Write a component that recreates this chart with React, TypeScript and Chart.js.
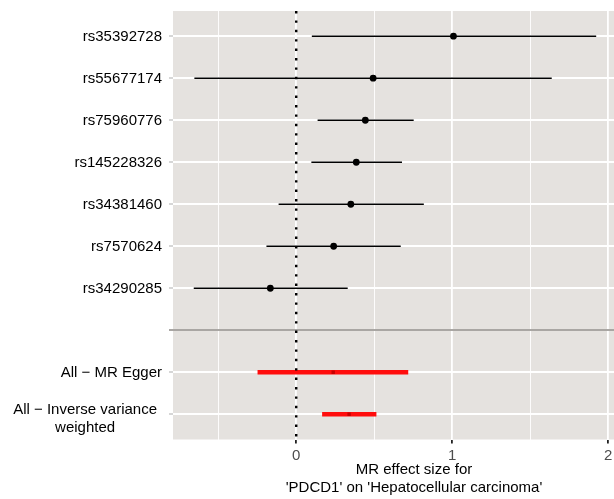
import React, { useEffect, useRef } from 'react';
import { Chart, registerables } from 'chart.js';

Chart.register(...registerables);

// ---- data ----
const snpLabels = ['rs35392728', 'rs55677174', 'rs75960776', 'rs145228326', 'rs34381460', 'rs7570624', 'rs34290285'];
const snpEffect = [1.008, 0.493, 0.443, 0.385, 0.35, 0.24, -0.166];
const snpLower = [0.1, -0.653, 0.137, 0.097, -0.113, -0.191, -0.657];
const snpUpper = [1.923, 1.638, 0.753, 0.678, 0.818, 0.67, 0.33];

const summaryLabels: (string | string[])[] = ['All − MR Egger', ['All − Inverse variance', 'weighted']];
const summaryEffect = [0.237, 0.339];
const summaryLower = [-0.248, 0.166];
const summaryUpper = [0.718, 0.514];

const xTicks = [-0.5, 0, 0.5, 1, 1.5, 2];
const xTitle = ['MR effect size for', "'PDCD1' on 'Hepatocellular carcinoma'"];

const FONT = "'Liberation Sans', Arial, Helvetica, sans-serif";
const PANEL = '#E5E2DF';
const SEP_ROW = snpLabels.length; // blank separator row
const summaryRow = (j: number) => snpLabels.length + 1 + j;
const lastRow = snpLabels.length + summaryLabels.length;

export default function App() {
  const ref = useRef<HTMLCanvasElement | null>(null);

  useEffect(() => {
    if (!ref.current) return;

    const bgPlugin = {
      id: 'panelBg',
      beforeDraw(chart: any) {
        const { ctx, chartArea } = chart;
        const { left, top, right, bottom } = chartArea;
        ctx.save();
        ctx.fillStyle = PANEL;
        ctx.fillRect(left, top, right - left, bottom - top);
        ctx.restore();
      },
    };

    const yLabelPlugin = {
      id: 'yLabels',
      afterDraw(chart: any) {
        const { ctx } = chart;
        const y = chart.scales.y;
        ctx.save();
        ctx.font = `15px ${FONT}`;
        ctx.fillStyle = '#000000';
        ctx.textBaseline = 'middle';
        const drawLabel = (lab: string | string[], row: number) => {
          const py = y.getPixelForValue(row);
          if (Array.isArray(lab)) {
            ctx.textAlign = 'center';
            const w = Math.max(...lab.map((l) => ctx.measureText(l).width));
            const cx = 157 - w / 2;
            lab.forEach((l, k) => ctx.fillText(l, cx, py - 4 + k * 18));
          } else {
            ctx.textAlign = 'right';
            ctx.fillText(lab, 162, py + 0.5);
          }
        };
        snpLabels.forEach((l, i) => drawLabel(l, i));
        summaryLabels.forEach((l, j) => drawLabel(l, summaryRow(j)));
        ctx.restore();
      },
    };

    const datasets: any[] = [];
    // points on top
    datasets.push({
      type: 'scatter',
      data: snpEffect.map((v, i) => ({ x: v, y: i })),
      backgroundColor: '#000000',
      borderColor: '#000000',
      pointRadius: 3.4,
      pointBorderWidth: 0,
      order: 0,
    });
    datasets.push({
      type: 'scatter',
      data: summaryEffect.map((v, j) => ({ x: v, y: summaryRow(j) })),
      backgroundColor: '#C80000',
      borderColor: '#C80000',
      pointStyle: 'rect',
      pointRadius: 2.4,
      pointBorderWidth: 0,
      order: 0,
    });
    // zero line
    datasets.push({
      type: 'scatter',
      showLine: true,
      data: [
        { x: 0, y: -0.6 },
        { x: 0, y: lastRow + 0.6 },
      ],
      borderColor: '#000000',
      borderWidth: 2.4,
      borderDash: [2.4, 7],
      borderCapStyle: 'butt',
      pointRadius: 0,
      order: 1,
    });
    // error bars
    snpEffect.forEach((_, i) => {
      datasets.push({
        type: 'scatter',
        showLine: true,
        data: [
          { x: snpLower[i], y: i },
          { x: snpUpper[i], y: i },
        ],
        borderColor: '#000000',
        borderWidth: 1.5,
        pointRadius: 0,
        order: 2,
      });
    });
    summaryEffect.forEach((_, j) => {
      datasets.push({
        type: 'scatter',
        showLine: true,
        data: [
          { x: summaryLower[j], y: summaryRow(j) },
          { x: summaryUpper[j], y: summaryRow(j) },
        ],
        borderColor: '#FF0D0D',
        borderWidth: 4.5,
        borderCapStyle: 'butt',
        pointRadius: 0,
        order: 2,
      });
    });

    const chart = new Chart(ref.current, {
      type: 'scatter',
      data: { datasets },
      options: {
        animation: false,
        responsive: false,
        devicePixelRatio: 1,
        layout: { padding: { left: 0, right: 9, top: 11, bottom: 0 } },
        plugins: { legend: { display: false }, tooltip: { enabled: false }, title: { display: false } },
        scales: {
          x: {
            type: 'linear',
            min: -0.79,
            max: 2.3,
            afterBuildTicks: (s: any) => {
              s.ticks = xTicks.map((v) => ({ value: v }));
            },
            afterFit: (s: any) => {
              s.height = 59.5;
            },
            border: { display: false },
            grid: {
              color: '#FFFFFF',
              lineWidth: (c: any) => (Number.isInteger(c.tick?.value) ? 1.8 : 0.9),
              tickColor: (c: any) => (Number.isInteger(c.tick?.value) ? '#222222' : 'rgba(0,0,0,0)'),
              tickWidth: 1.8,
              tickLength: 4,
              drawTicks: true,
            },
            ticks: {
              color: '#4D4D4D',
              font: { size: 15, family: FONT },
              padding: 3,
              maxRotation: 0,
              autoSkip: false,
              callback: (v: any) => (Number.isInteger(v) ? String(v) : ''),
            },
            title: {
              display: true,
              text: xTitle,
              color: '#000000',
              font: { size: 15, family: FONT },
              padding: { top: 0, bottom: 2 },
            },
          },
          y: {
            type: 'linear',
            min: -0.6,
            max: lastRow + 0.6,
            reverse: true,
            afterBuildTicks: (s: any) => {
              s.ticks = Array.from({ length: lastRow + 1 }, (_, i) => ({ value: i }));
            },
            afterFit: (s: any) => {
              s.width = 173;
            },
            border: { display: false },
            grid: {
              color: (c: any) => (c.tick?.value === SEP_ROW ? '#A9A6A3' : '#FFFFFF'),
              lineWidth: 2,
              tickColor: (c: any) => (c.tick?.value === SEP_ROW ? '#A9A6A3' : '#D6D6D6'),
              tickLength: 4,
            },
            ticks: { display: false },
          },
        },
      },
      plugins: [bgPlugin, yLabelPlugin],
    } as any);

    return () => chart.destroy();
  }, []);

  return (
    <div style={{ position: 'absolute', left: 0, top: 0, width: 614, height: 499, overflow: 'hidden', background: '#FFFFFF' }}>
      <canvas ref={ref} width={664} height={499} style={{ display: 'block' }} />
    </div>
  );
}
